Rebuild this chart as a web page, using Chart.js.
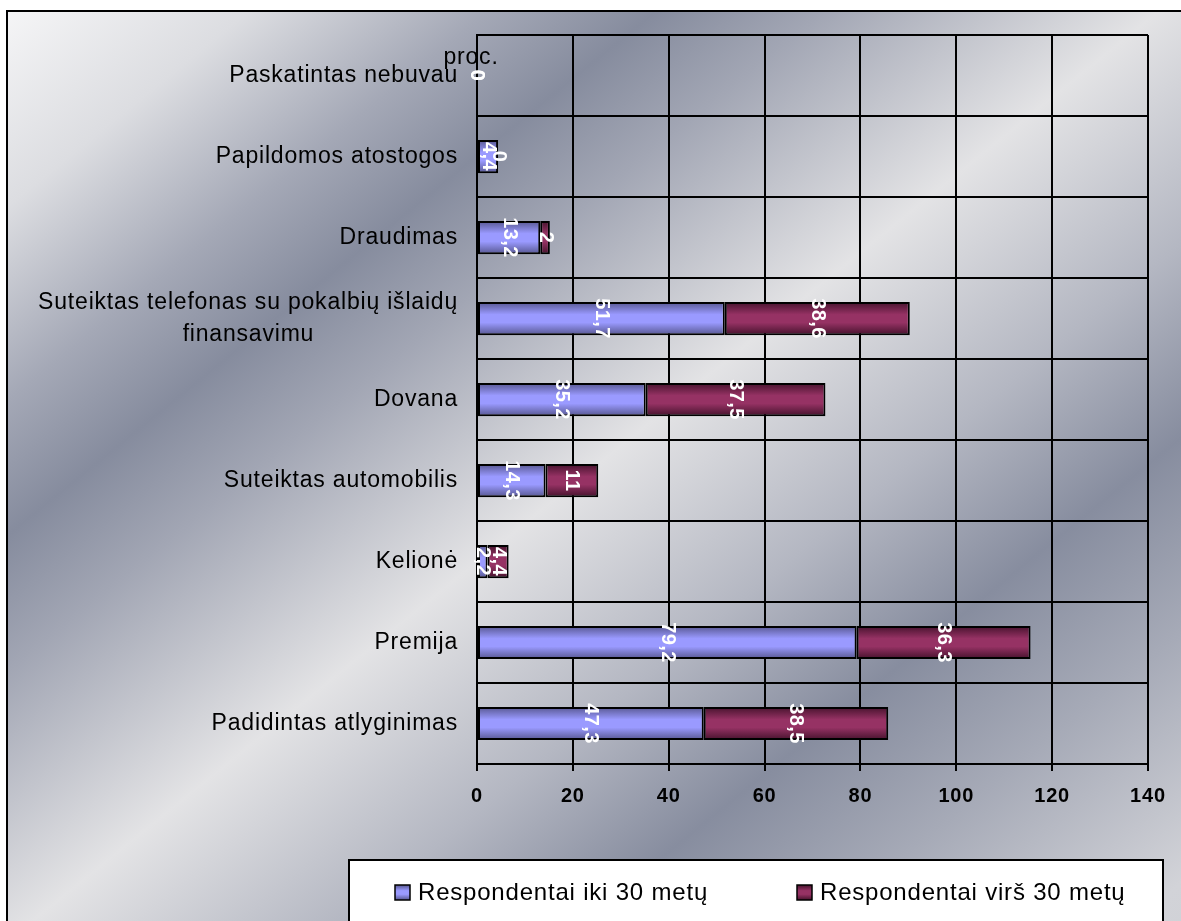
<!DOCTYPE html>
<html lang="lt">
<head>
<meta charset="utf-8">
<title>Paskatinimo būdai</title>
<script src="https://cdn.jsdelivr.net/npm/chart.js@4.4.0/dist/chart.umd.min.js"></script>
<style>
  html, body { margin: 0; padding: 0; background: #ffffff; overflow: hidden; }
  #wrap { width: 1181px; height: 921px; position: relative; }
</style>
</head>
<body>
<div id="wrap"><canvas id="chart" width="1181" height="921"></canvas></div>
<script>
// ---- data ----
const categories = [
  'Paskatintas nebuvau',
  'Papildomos atostogos',
  'Draudimas',
  ['Suteiktas telefonas su pokalbių išlaidų', 'finansavimu'],
  'Dovana',
  'Suteiktas automobilis',
  'Kelionė',
  'Premija',
  'Padidintas atlyginimas'
];
const under30 = [0, 4.4, 13.2, 51.7, 35.2, 14.3, 2.2, 79.2, 47.3];
const over30  = [0, 0, 2, 38.6, 37.5, 11, 4.4, 36.3, 38.5];
const seriesNames = ['Respondentai iki 30 metų', 'Respondentai virš 30 metų'];
const xTickValues = [0, 20, 40, 60, 80, 100, 120, 140];
const unitLabel = 'proc.';

// ---- styling ----
const FONT = '"Liberation Sans", Arial, Helvetica, sans-serif';
const SPACING = '0.8px';
const LABEL_SIZE = 23;
const blueStops   = ['#56568f', '#9a9aff', '#9a9aff', '#56568f'];
const maroonStops = ['#45122c', '#963264', '#963264', '#45122c'];
const BAR_PCT = 0.41;

Chart.defaults.font.family = FONT;
Chart.defaults.color = '#000';

// Wrapped category lines are centred under the first line: pad the short line
// with no-break spaces so the right-aligned tick renderer keeps them centred.
(function centreWrappedLabels() {
  const m = document.createElement('canvas').getContext('2d');
  m.font = LABEL_SIZE + 'px ' + FONT;
  m.letterSpacing = SPACING;
  const sp = m.measureText('\u00A0').width;
  categories.forEach((c, idx) => {
    if (Array.isArray(c)) {
      const w0 = m.measureText(c[0]).width;
      categories[idx] = c.map((line, j) => {
        if (j === 0) return line;
        const n = Math.max(0, Math.round((w0 - m.measureText(line).width) / 2 / sp));
        return line + '\u00A0'.repeat(n);
      });
    }
  });
})();

function fillGradient(ctx, y0, y1, stops) {
  const g = ctx.createLinearGradient(0, y0, 0, y1);
  g.addColorStop(0, stops[0]);
  g.addColorStop(0.38, stops[1]);
  g.addColorStop(0.62, stops[2]);
  g.addColorStop(1, stops[3]);
  return g;
}

function barFill(stops) {
  return (c) => {
    const chart = c.chart;
    const ys = chart.scales && chart.scales.y;
    if (!chart.chartArea || !ys || c.type !== 'data') return stops[1];
    const yc = ys.getPixelForValue(c.dataIndex);
    const half = (ys.bottom - ys.top) / categories.length * BAR_PCT / 2;
    return fillGradient(chart.ctx, yc - half, yc + half, stops);
  };
}

const fmt = (v) => String(v).replace('.', ',');

// Framed gradient backdrop behind the whole chart
const backdrop = {
  id: 'backdrop',
  beforeDraw(chart) {
    const ctx = chart.ctx;
    ctx.letterSpacing = SPACING;
    ctx.save();
    ctx.fillStyle = '#ffffff';
    ctx.fillRect(0, 0, chart.width, chart.height);
    const g = ctx.createLinearGradient(0, 0, 945, 1170);
    g.addColorStop(0.00, '#f7f7f8');
    g.addColorStop(0.11, '#dcdde1');
    g.addColorStop(0.21, '#a4a8b6');
    g.addColorStop(0.28, '#868c9e');
    g.addColorStop(0.35, '#a2a6b4');
    g.addColorStop(0.49, '#e3e3e5');
    g.addColorStop(0.62, '#b4b7c2');
    g.addColorStop(0.72, '#878d9f');
    g.addColorStop(0.82, '#a6aab7');
    g.addColorStop(0.95, '#d2d3d8');
    g.addColorStop(1.00, '#cfd1d6');
    ctx.fillStyle = g;
    ctx.fillRect(7, 11, chart.width, chart.height);
    ctx.strokeStyle = '#000';
    ctx.lineWidth = 2;
    ctx.beginPath();
    ctx.moveTo(7, chart.height + 5);
    ctx.lineTo(7, 11);
    ctx.lineTo(chart.width + 5, 11);
    ctx.stroke();
    ctx.restore();
  }
};

// Rotated white value labels centred in each bar segment, plus the unit caption
const valueLabels = {
  id: 'valueLabels',
  afterDatasetsDraw(chart) {
    const ctx = chart.ctx;
    ctx.save();
    ctx.letterSpacing = '0.4px';
    ctx.font = 'bold 20px ' + FONT;
    ctx.fillStyle = '#ffffff';
    ctx.textAlign = 'center';
    ctx.textBaseline = 'middle';
    chart.data.datasets.forEach((ds, di) => {
      chart.getDatasetMeta(di).data.forEach((bar, i) => {
        const cx = (bar.x + bar.base) / 2;
        ctx.save();
        ctx.translate(cx, bar.y);
        ctx.rotate(Math.PI / 2);
        ctx.fillText(fmt(ds.data[i]), 0, 0);
        ctx.restore();
      });
    });
    ctx.letterSpacing = SPACING;
    ctx.font = LABEL_SIZE + 'px ' + FONT;
    ctx.fillStyle = '#000';
    ctx.textBaseline = 'alphabetic';
    ctx.fillText(unitLabel, chart.scales.x.getPixelForValue(0) - 6, chart.chartArea.top + 29);
    ctx.restore();
  }
};

// Boxed legend along the bottom edge
const boxLegend = {
  id: 'boxLegend',
  afterDraw(chart) {
    const ctx = chart.ctx;
    ctx.save();
    ctx.fillStyle = '#ffffff';
    ctx.fillRect(349, 860, 814, 90);
    ctx.strokeStyle = '#000';
    ctx.lineWidth = 2;
    ctx.strokeRect(349, 860, 814, 90);
    const items = [
      { x: 395, stops: blueStops },
      { x: 797, stops: maroonStops }
    ];
    ctx.letterSpacing = SPACING;
    ctx.font = '24px ' + FONT;
    ctx.textBaseline = 'middle';
    ctx.textAlign = 'left';
    chart.data.datasets.forEach((ds, i) => {
      const it = items[i];
      const sy = 885, s = 15;
      ctx.fillStyle = fillGradient(ctx, sy, sy + s, it.stops);
      ctx.fillRect(it.x, sy, s, s);
      ctx.lineWidth = 1.5;
      ctx.strokeStyle = '#000';
      ctx.strokeRect(it.x, sy, s, s);
      ctx.fillStyle = '#000';
      ctx.fillText(ds.label, it.x + 23, 893);
    });
    ctx.restore();
  }
};

new Chart(document.getElementById('chart'), {
  type: 'bar',
  data: {
    labels: categories,
    datasets: [
      { label: seriesNames[0], data: under30, backgroundColor: barFill(blueStops),
        borderColor: '#000', borderWidth: 2, borderSkipped: false },
      { label: seriesNames[1], data: over30, backgroundColor: barFill(maroonStops),
        borderColor: '#000', borderWidth: 2, borderSkipped: false }
    ]
  },
  options: {
    indexAxis: 'y',
    responsive: false,
    animation: false,
    devicePixelRatio: 1,
    layout: { padding: { top: 32, right: 33, bottom: 0, left: 0 } },
    datasets: { bar: { categoryPercentage: 1, barPercentage: BAR_PCT } },
    plugins: {
      legend: { display: false },
      tooltip: { enabled: false },
      title: { display: false }
    },
    scales: {
      x: {
        stacked: true,
        min: 0,
        max: 140,
        afterBuildTicks: (s) => { s.ticks = xTickValues.map(v => ({ value: v })); },
        afterFit: (s) => { s.height = 157; },
        grid: { color: '#000', lineWidth: 2, drawTicks: true, tickLength: 7, tickColor: '#000', tickWidth: 2 },
        border: { color: '#000', width: 2 },
        ticks: { font: { size: 20, weight: 'bold' }, color: '#000', padding: 13, maxRotation: 0 }
      },
      y: {
        stacked: true,
        afterFit: (s) => { s.width = 477; },
        grid: { color: '#000', lineWidth: 2, drawTicks: false, offset: true },
        border: { color: '#000', width: 2 },
        ticks: { font: { size: LABEL_SIZE, lineHeight: 1.4 }, color: '#000', padding: 19, autoSkip: false }
      }
    }
  },
  plugins: [backdrop, valueLabels, boxLegend]
});
</script>
</body>
</html>
